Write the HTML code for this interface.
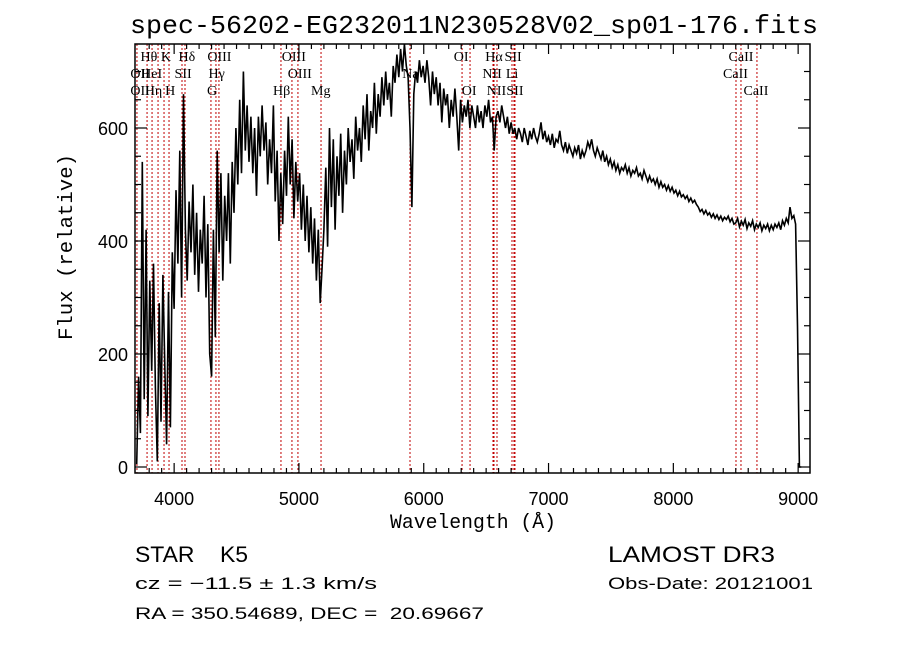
<!DOCTYPE html>
<html><head><meta charset="utf-8"><style>
html,body{margin:0;padding:0;background:#fff;}
svg{display:block;}
text{font-family:"Liberation Sans",sans-serif;fill:#000;white-space:pre;}
.mono{font-family:"Liberation Mono",monospace;}
.ser{font-family:"Liberation Serif",serif;font-size:14px;}
</style></head><body>
<svg id="chart" width="900" height="649" viewBox="0 0 900 649" xmlns="http://www.w3.org/2000/svg" xml:space="preserve">
<rect width="900" height="649" fill="#fff"/>
<text class="mono" x="130" y="33" font-size="26" textLength="688" lengthAdjust="spacingAndGlyphs">spec-56202-EG232011N230528V02_sp01-176.fits</text>
<g id="lines"></g>
<g id="labels"></g>
<g id="plot"></g>
<g id="axes"></g>
<text class="mono" transform="translate(72,340) rotate(-90)" font-size="20" textLength="186" lengthAdjust="spacingAndGlyphs">Flux (relative)</text>
<text class="mono" x="390" y="528" font-size="20" textLength="166" lengthAdjust="spacingAndGlyphs">Wavelength (Å)</text>
<text x="135" y="562" font-size="22" textLength="113" lengthAdjust="spacingAndGlyphs">STAR    K5</text>
<text x="608" y="562" font-size="22" textLength="167" lengthAdjust="spacingAndGlyphs">LAMOST DR3</text>
<text x="135" y="589" font-size="17" textLength="242" lengthAdjust="spacingAndGlyphs">cz = −11.5 ± 1.3 km/s</text>
<text x="608" y="589" font-size="17" textLength="205" lengthAdjust="spacingAndGlyphs">Obs-Date: 20121001</text>
<text x="135" y="619" font-size="17" textLength="349" lengthAdjust="spacingAndGlyphs">RA = 350.54689, DEC =  20.69667</text>
</svg>
<script>
const waveStart = 3700;
const waveStep = 15;
const flux = [
5,160,60,540,120,420,90,330,170,360,140,10,290,80,340,180,40,310,70,380,
280,490,360,560,300,660,420,330,470,380,500,340,450,310,420,360,480,300,430,200,
160,420,230,560,380,520,330,480,400,520,360,540,450,600,500,650,520,700,560,640,
540,620,520,600,480,620,550,640,560,610,500,580,520,640,470,560,400,520,430,560,
480,620,500,580,440,540,470,520,420,500,400,480,380,460,360,440,330,420,290,350,
420,530,390,600,460,580,420,550,480,590,450,560,500,600,540,580,510,620,560,600,
540,640,580,660,560,630,600,680,590,660,620,690,640,700,650,680,620,710,680,730,
690,740,700,750,710,690,600,460,660,700,680,720,690,710,680,720,690,640,700,660,
690,640,680,610,670,640,660,600,650,620,670,620,560,650,610,640,620,650,600,640,
620,600,640,610,630,600,640,620,650,610,620,560,620,630,610,640,620,600,620,590,
610,590,600,580,600,590,575,600,585,570,595,580,600,585,575,590,610,580,595,575,
585,570,590,565,580,575,595,570,560,575,555,570,560,550,565,555,570,545,560,550,
560,575,565,580,560,550,565,555,545,560,540,550,535,545,530,540,525,535,520,530,
525,535,520,530,515,525,520,530,515,520,510,525,515,505,515,505,510,500,510,495,
505,495,500,490,498,488,495,485,490,480,488,478,482,475,480,470,476,468,472,465,
460,452,456,448,454,446,450,442,448,440,446,438,444,436,442,438,444,434,440,430,
432,440,425,435,428,438,422,432,426,436,420,430,424,432,418,428,422,430,418,428,
420,430,424,432,420,436,428,440,432,460,440,445,430,250,0,0
];
const lineWaves = [3702,3783,3823,3871,3919,3959,4063,4087,4295,4335,4359,4856,4944,4992,5177,5890,6307,6371,6555,6563,6587,6707,6723,6731,8502,8542,8670];
const labelNames = ["Hθ","K","Hδ","OIII","OIII","OI","Hα","SII","CaII","OII","HeI","SII","Hγ","OIII","Na","NII","Li","CaII","OII","Hη","H","G","Hβ","Mg","OI","NII","SII","CaII"];
const labelWaves = [3798,3934,4102,4363,4959,6300,6563,6716,8542,3727,3820,4072,4341,5007,5893,6548,6708,8498,3727,3835,3968,4304,4861,5175,6364,6583,6731,8662];
const labelRows = [0,0,0,0,0,0,0,0,0,1,1,1,1,1,1,1,1,1,2,2,2,2,2,2,2,2,2,2];
const yTicks = [0,200,400,600];
const xTicks = [4000,5000,6000,7000,8000,9000];

const L=135,R=810,T=44,B=473;
function xs(w){return 494+(w-6563)*0.1248;}
function ys(f){return 467-f*0.565;}
const NS="http://www.w3.org/2000/svg";
function mk(tag,parent){const e=document.createElementNS(NS,tag);parent.appendChild(e);return e;}

const gl=document.getElementById('lines');
lineWaves.forEach(w=>{
  const l=mk('line',gl);
  
  
  l.setAttribute('x1',xs(w));l.setAttribute('x2',xs(w));
  l.setAttribute('y1',T);l.setAttribute('y2',B);
  l.setAttribute('stroke','#c00000');l.setAttribute('stroke-width','1');
  l.setAttribute('stroke-dasharray','2,2');
});
const glb=document.getElementById('labels');
const rowY=[61,78,95];
labelNames.forEach((n,i)=>{
  const t=mk('text',glb);
  
  
  t.setAttribute('class','ser');
  t.setAttribute('x',xs(labelWaves[i]));
  t.setAttribute('y',rowY[labelRows[i]]);
  t.setAttribute('text-anchor','middle');
  t.textContent=n;
});

const gp=document.getElementById('plot');
let d='';
flux.forEach((f,i)=>{
  const x=xs(waveStart+i*waveStep), y=Math.max(T,Math.min(B,ys(f)));
  d+=(i?'L':'M')+x.toFixed(1)+' '+y.toFixed(1);
});
const p=mk('path',gp);


p.setAttribute('d',d);p.setAttribute('fill','none');
p.setAttribute('stroke','#000');p.setAttribute('stroke-width','1.6');

const ga=document.getElementById('axes');
const box=mk('rect',ga);


box.setAttribute('x',L);box.setAttribute('y',T);box.setAttribute('width',R-L);box.setAttribute('height',B-T);
box.setAttribute('fill','none');box.setAttribute('stroke','#000');box.setAttribute('stroke-width','1.5');
function tick(x1,y1,x2,y2){const l=mk('line',ga);
  
  
  l.setAttribute('x1',x1);l.setAttribute('y1',y1);l.setAttribute('x2',x2);l.setAttribute('y2',y2);
  l.setAttribute('stroke','#000');l.setAttribute('stroke-width','1.2');}
for(let w=3800;w<=9100;w+=100){const x=xs(w);if(x<L||x>R)continue;const len=(w%1000===0)?10:5;
  tick(x,B,x,B-len);tick(x,T,x,T+len);}
for(let f=0;f<=740;f+=50){const y=ys(f);const len=(f%200===0)?12:6;
  tick(L,y,L+len,y);tick(R,y,R-len,y);}
xTicks.forEach(w=>{const t=mk('text',ga);
  
  
  t.setAttribute('x',xs(w));t.setAttribute('y',505);t.setAttribute('text-anchor','middle');t.setAttribute('font-size','18');
  t.textContent=w;});
yTicks.forEach(f=>{const t=mk('text',ga);
  
  
  t.setAttribute('x',128);t.setAttribute('y',ys(f)+7);t.setAttribute('text-anchor','end');t.setAttribute('font-size','18');
  t.textContent=f;});
</script>
</body></html>
